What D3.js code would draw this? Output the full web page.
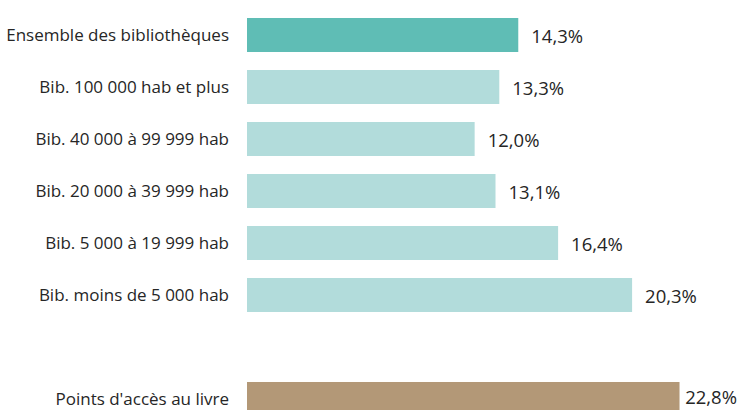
<!DOCTYPE html>
<html>
<head>
<meta charset="utf-8">
<script src="https://cdn.jsdelivr.net/npm/d3@7"></script>
<style>
  html, body { margin: 0; padding: 0; background: #fff; }
  svg { display: block; font-family: "Open Sans", sans-serif; }
</style>
</head>
<body>
<svg id="chart" width="740" height="410"></svg>
<script>
// categories, top to bottom ("" = empty slot before the last row)
const categories = [
  'Ensemble des bibliothèques',
  'Bib. 100 000 hab et plus',
  'Bib. 40 000 à 99 999 hab',
  'Bib. 20 000 à 39 999 hab',
  'Bib. 5 000 à 19 999 hab',
  'Bib. moins de 5 000 hab',
  '',
  "Points d'accès au livre"
];
const values = [14.3, 13.3, 12.0, 13.1, 16.4, 20.3, null, 22.8];
const groups = ['all', 'bib', 'bib', 'bib', 'bib', 'bib', null, 'pal'];

const colors = { all: '#5fbdb5', bib: '#b2dcdb', pal: '#b39877' };

const data = categories.map((c, i) => ({ cat: c, key: c || 'gap', value: values[i], group: groups[i] }));

const width = 740, height = 410;
const svg = d3.select('#chart');

const x = d3.scaleLinear().domain([0, 25]).range([247, 247 + 25 * 18.97]);
const y = d3.scaleBand()
  .domain(data.map(d => d.key))
  .range([9, 9 + 52 * data.length])
  .paddingInner(0.346)
  .paddingOuter(0.173);

const rows = data.filter(d => d.value != null);
const fmt = v => d3.format('.1f')(v).replace('.', ',') + '%';

// bars
svg.append('g').selectAll('rect')
  .data(rows)
  .enter().append('rect')
    .attr('x', x(0))
    .attr('y', d => y(d.key))
    .attr('width', d => x(d.value) - x(0))
    .attr('height', y.bandwidth())
    .attr('fill', d => colors[d.group]);

// category labels
svg.append('g').selectAll('text')
  .data(rows)
  .enter().append('text')
    .attr('x', 229)
    .attr('y', d => Math.min(y(d.key) + y.bandwidth() / 2, height - 11))
    .attr('dy', '0.35em')
    .attr('text-anchor', 'end')
    .attr('font-size', 17)
    .attr('fill', '#262626')
    .text(d => d.cat);

// value labels (kept inside the picture at the right and bottom edges)
svg.append('g').selectAll('text')
  .data(rows)
  .enter().append('text')
    .attr('y', d => Math.min(y(d.key) + y.bandwidth() / 2 + 1.5, height - 12))
    .attr('dy', '0.35em')
    .attr('font-size', 18.5)
    .attr('fill', '#262626')
    .text(d => fmt(d.value))
    .attr('x', function(d) {
      const w = this.getComputedTextLength();
      return Math.min(x(d.value) + 13, width - 3 - w);
    });
</script>
</body>
</html>
